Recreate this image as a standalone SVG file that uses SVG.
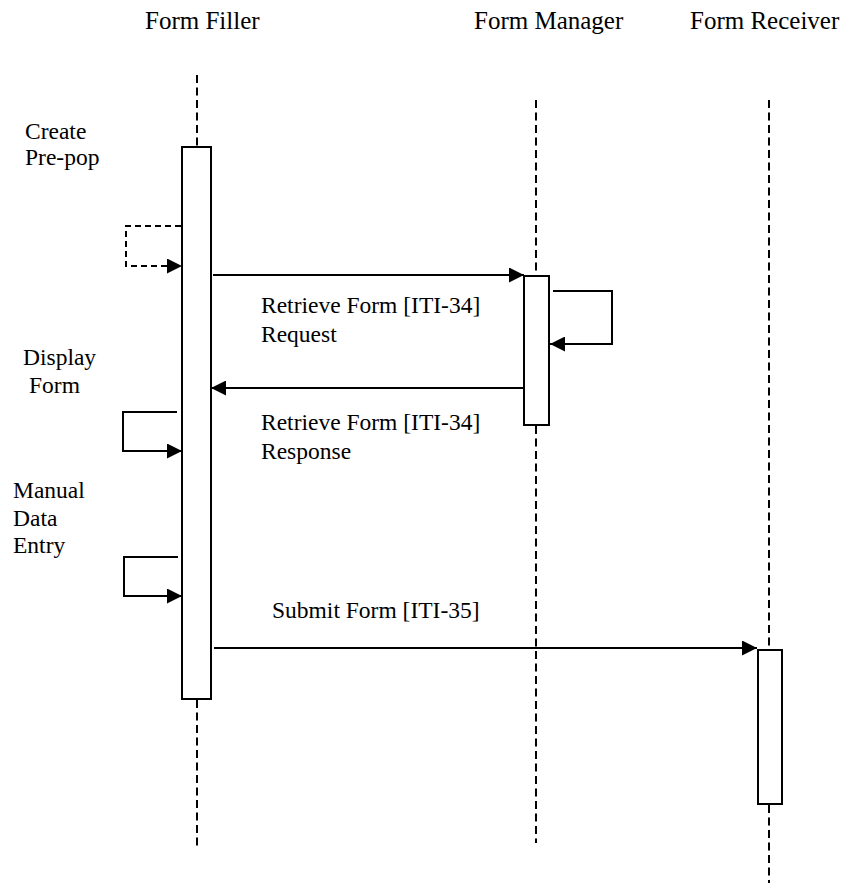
<svg xmlns="http://www.w3.org/2000/svg" width="846" height="884" viewBox="0 0 846 884">
<style>
text{font-family:"Liberation Serif","Times New Roman",serif;fill:#000}
.hdr{font-size:25px}
.lbl{font-size:23.5px}
.life{stroke:#000;stroke-width:2;stroke-dasharray:8 4.5;fill:none}
.act{fill:#fff;stroke:#000;stroke-width:2}
.msg{stroke:#000;stroke-width:2;fill:none}
.dash{stroke-dasharray:6 4}
</style>
<defs>
<marker id="ah" markerWidth="15" markerHeight="15" refX="15" refY="7.5" orient="auto" markerUnits="userSpaceOnUse">
<path d="M0,0 L15,7.5 L0,15 Z" fill="#000"/>
</marker>
</defs>
<rect width="846" height="884" fill="#fff"/>
<g id="filler">
<text class="hdr" x="145" y="29">Form Filler</text>
<line class="life" x1="197" y1="75" x2="197" y2="147"/>
<line class="life" x1="197" y1="700" x2="197" y2="848"/>
<rect class="act" x="182" y="147" width="29" height="552"/>
</g>
<g id="manager">
<text class="hdr" x="474" y="29">Form Manager</text>
<line class="life" x1="536" y1="100" x2="536" y2="276"/>
<line class="life" x1="536" y1="426" x2="536" y2="843"/>
<rect class="act" x="524" y="276" width="25" height="149"/>
</g>
<g id="receiver">
<text class="hdr" x="690" y="29">Form Receiver</text>
<line class="life" x1="769" y1="100" x2="769" y2="650"/>
<line class="life" x1="769" y1="805" x2="769" y2="883"/>
<rect class="act" x="758" y="650" width="24" height="154"/>
</g>
<g id="connectors">
<path class="msg dash" d="M181,226 H126 V266 H182" marker-end="url(#ah)"/>
<line class="msg" x1="213" y1="275" x2="524" y2="275" marker-end="url(#ah)"/>
<path class="msg" d="M553,291 H612 V344 H550" marker-end="url(#ah)"/>
<line class="msg" x1="524" y1="388" x2="211" y2="388" marker-end="url(#ah)"/>
<path class="msg" d="M177,412 H123 V451 H182" marker-end="url(#ah)"/>
<path class="msg" d="M178,557 H124 V596 H182" marker-end="url(#ah)"/>
<line class="msg" x1="214" y1="648" x2="757" y2="648" marker-end="url(#ah)"/>
</g>
<g id="labels">
<text class="lbl" x="25" y="139">Create</text>
<text class="lbl" x="25" y="165">Pre-pop</text>
<text class="lbl" x="261" y="313">Retrieve Form [ITI-34]</text>
<text class="lbl" x="261" y="342">Request</text>
<text class="lbl" x="23" y="365">Display</text>
<text class="lbl" x="29" y="393">Form</text>
<text class="lbl" x="261" y="430">Retrieve Form [ITI-34]</text>
<text class="lbl" x="261" y="459">Response</text>
<text class="lbl" x="13" y="498">Manual</text>
<text class="lbl" x="13" y="526">Data</text>
<text class="lbl" x="13" y="553">Entry</text>
<text class="lbl" x="272" y="618">Submit Form [ITI-35]</text>
</g>
</svg>
